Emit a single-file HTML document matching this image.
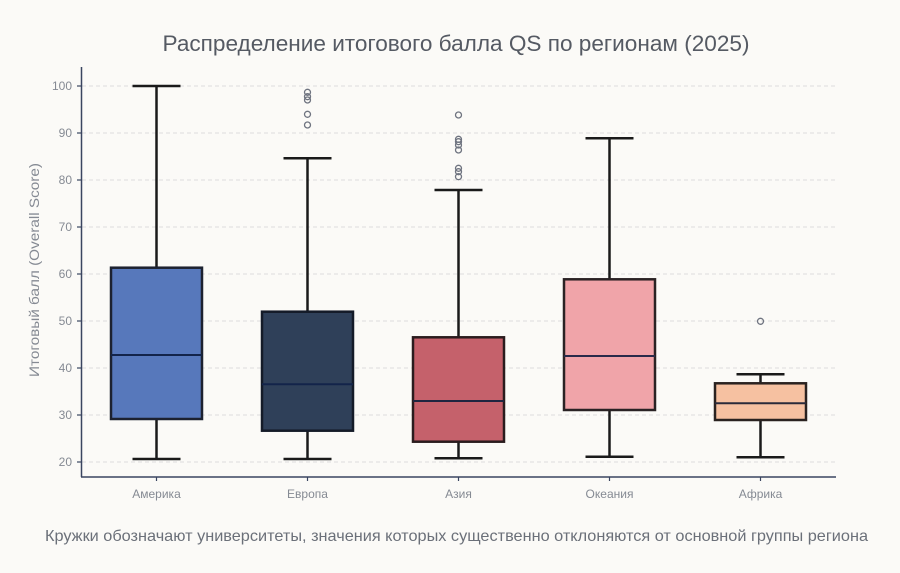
<!DOCTYPE html>
<html>
<head>
<meta charset="utf-8">
<style>
html,body{margin:0;padding:0;background:#fbfaf7;}
svg{display:block;}
text{font-family:"Liberation Sans","DejaVu Sans",sans-serif;}
</style>
</head>
<body>
<svg width="900" height="573" viewBox="0 0 900 573" xmlns="http://www.w3.org/2000/svg">
<rect width="900" height="573" fill="#fbfaf7"/>
<!-- title -->
<text x="456" y="51" text-anchor="middle" font-size="22" fill="#555a63" textLength="587" lengthAdjust="spacingAndGlyphs">Распределение итогового балла QS по регионам (2025)</text>
<!-- grid -->
<g stroke="#dcdcdc" stroke-width="1" stroke-dasharray="4,3">
<line x1="82" y1="86" x2="836" y2="86"/>
<line x1="82" y1="133" x2="836" y2="133"/>
<line x1="82" y1="180" x2="836" y2="180"/>
<line x1="82" y1="227" x2="836" y2="227"/>
<line x1="82" y1="274" x2="836" y2="274"/>
<line x1="82" y1="321" x2="836" y2="321"/>
<line x1="82" y1="368" x2="836" y2="368"/>
<line x1="82" y1="415" x2="836" y2="415"/>
<line x1="82" y1="462" x2="836" y2="462"/>
</g>
<!-- y ticks -->
<g stroke="#3a4560" stroke-width="1.2">
<line x1="77" y1="86" x2="81" y2="86"/>
<line x1="77" y1="133" x2="81" y2="133"/>
<line x1="77" y1="180" x2="81" y2="180"/>
<line x1="77" y1="227" x2="81" y2="227"/>
<line x1="77" y1="274" x2="81" y2="274"/>
<line x1="77" y1="321" x2="81" y2="321"/>
<line x1="77" y1="368" x2="81" y2="368"/>
<line x1="77" y1="415" x2="81" y2="415"/>
<line x1="77" y1="462" x2="81" y2="462"/>
<line x1="156.5" y1="477" x2="156.5" y2="481"/>
<line x1="307.5" y1="477" x2="307.5" y2="481"/>
<line x1="458.5" y1="477" x2="458.5" y2="481"/>
<line x1="609.5" y1="477" x2="609.5" y2="481"/>
<line x1="760.5" y1="477" x2="760.5" y2="481"/>
</g>
<g font-size="12" fill="#858a93" text-anchor="end">
<text x="72" y="90">100</text>
<text x="72" y="137">90</text>
<text x="72" y="184">80</text>
<text x="72" y="231">70</text>
<text x="72" y="278">60</text>
<text x="72" y="325">50</text>
<text x="72" y="372">40</text>
<text x="72" y="419">30</text>
<text x="72" y="466">20</text>
</g>
<g font-size="12" fill="#858a93" text-anchor="middle">
<text x="156.5" y="498">Америка</text>
<text x="307.5" y="498">Европа</text>
<text x="458.5" y="498">Азия</text>
<text x="609.5" y="498">Океания</text>
<text x="760.5" y="498">Африка</text>
</g>
<text transform="translate(39,270) rotate(-90)" text-anchor="middle" font-size="13.5" fill="#858a93" textLength="214" lengthAdjust="spacingAndGlyphs">Итоговый балл (Overall Score)</text>
<!-- spines -->
<line x1="81.5" y1="67" x2="81.5" y2="477" stroke="#3a4560" stroke-width="1.5"/>
<line x1="81" y1="477" x2="836" y2="477" stroke="#3a4560" stroke-width="1.5"/>

<!-- boxes -->
<g stroke="#1a1a1a" stroke-width="2.5" fill="none">
<!-- America -->
<line x1="156.5" y1="86" x2="156.5" y2="267.7"/>
<line x1="156.5" y1="419" x2="156.5" y2="459"/>
<line x1="132.5" y1="86" x2="180.5" y2="86"/>
<line x1="132.5" y1="459" x2="180.5" y2="459"/>
<rect x="111" y="267.7" width="91" height="151.3" fill="#5778bb" stroke="#1d2230"/>
<line x1="111" y1="355" x2="202" y2="355" stroke="#13244a" stroke-width="2"/>
<!-- Europe -->
<line x1="307.5" y1="158.3" x2="307.5" y2="311.7"/>
<line x1="307.5" y1="430.7" x2="307.5" y2="459"/>
<line x1="283.5" y1="158.3" x2="331.5" y2="158.3"/>
<line x1="283.5" y1="459" x2="331.5" y2="459"/>
<rect x="262" y="311.7" width="91" height="119" fill="#2f4059" stroke="#141b28"/>
<line x1="262" y1="384.3" x2="353" y2="384.3" stroke="#13244a" stroke-width="2"/>
<!-- Asia -->
<line x1="458.5" y1="190" x2="458.5" y2="337.3"/>
<line x1="458.5" y1="441.7" x2="458.5" y2="458.3"/>
<line x1="434.5" y1="190" x2="482.5" y2="190"/>
<line x1="434.5" y1="458.3" x2="482.5" y2="458.3"/>
<rect x="413" y="337.3" width="91" height="104.4" fill="#c5616b" stroke="#2a1c1e"/>
<line x1="413" y1="401" x2="504" y2="401" stroke="#1f2540" stroke-width="2"/>
<!-- Oceania -->
<line x1="609.5" y1="138.3" x2="609.5" y2="279.3"/>
<line x1="609.5" y1="410" x2="609.5" y2="456.7"/>
<line x1="585.5" y1="138.3" x2="633.5" y2="138.3"/>
<line x1="585.5" y1="456.7" x2="633.5" y2="456.7"/>
<rect x="564" y="279.3" width="91" height="130.7" fill="#f0a4a9" stroke="#2a2224"/>
<line x1="564" y1="356" x2="655" y2="356" stroke="#2a2a4a" stroke-width="2"/>
<!-- Africa -->
<line x1="760.5" y1="374.3" x2="760.5" y2="383.3"/>
<line x1="760.5" y1="420" x2="760.5" y2="457.3"/>
<line x1="736.5" y1="374.3" x2="784.5" y2="374.3"/>
<line x1="736.5" y1="457.3" x2="784.5" y2="457.3"/>
<rect x="715" y="383.3" width="91" height="36.7" fill="#f6c1a1" stroke="#2a2220"/>
<line x1="715" y1="403.3" x2="806" y2="403.3" stroke="#2a2a3a" stroke-width="2"/>
</g>
<!-- outliers -->
<g fill="none" stroke="#6f7480" stroke-width="1.3">
<circle cx="307.5" cy="92.3" r="3"/>
<circle cx="307.5" cy="96.7" r="3"/>
<circle cx="307.5" cy="100" r="3"/>
<circle cx="307.5" cy="114.3" r="3"/>
<circle cx="307.5" cy="125" r="3"/>
<circle cx="458.5" cy="115" r="3"/>
<circle cx="458.5" cy="139.3" r="3"/>
<circle cx="458.5" cy="141.7" r="3"/>
<circle cx="458.5" cy="145" r="3"/>
<circle cx="458.5" cy="150" r="3"/>
<circle cx="458.5" cy="168.3" r="3"/>
<circle cx="458.5" cy="171.7" r="3"/>
<circle cx="458.5" cy="176.7" r="3"/>
<circle cx="760.5" cy="321.3" r="3"/>
</g>
<!-- caption -->
<text x="456.5" y="541" text-anchor="middle" font-size="16" fill="#6b7079" textLength="823" lengthAdjust="spacingAndGlyphs">Кружки обозначают университеты, значения которых существенно отклоняются от основной группы региона</text>
</svg>
</body>
</html>
